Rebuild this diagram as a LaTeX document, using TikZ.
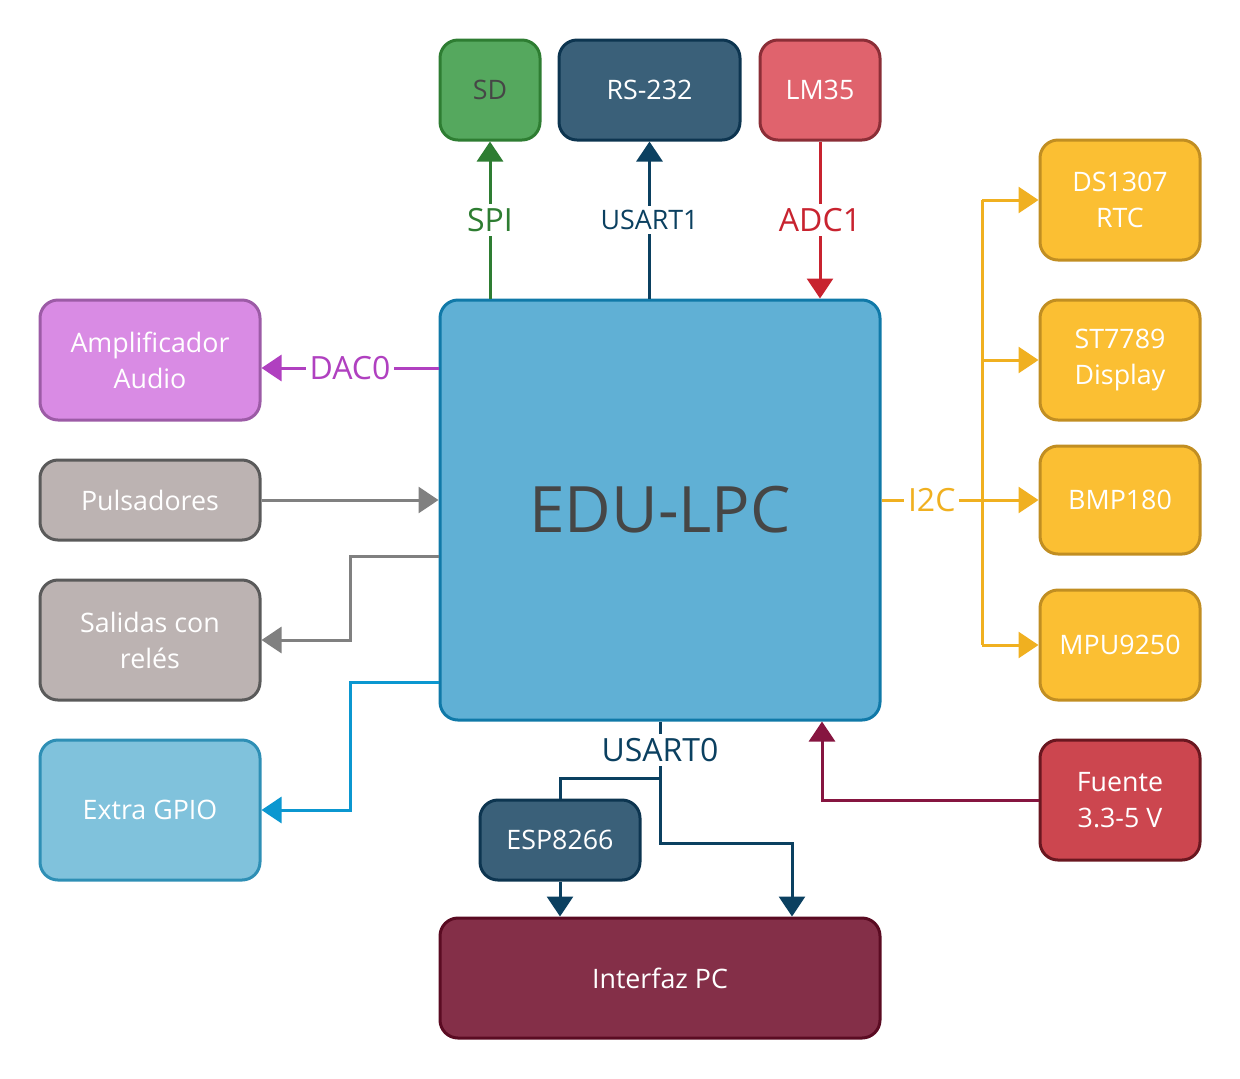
\documentclass[tikz,border=0pt]{standalone}
\usepackage{fontspec}
\setmainfont{Open Sans}
\usepackage{xcolor}
\usepackage{tikz}
\usetikzlibrary{arrows.meta, positioning}

\definecolor{sdfill}{HTML}{55A85E}
\definecolor{sdline}{HTML}{2E7D32}
\definecolor{navyfill}{HTML}{3A6079}
\definecolor{navyline}{HTML}{0D3550}
\definecolor{usartcol}{HTML}{0B4060}
\definecolor{lmfill}{HTML}{E0636D}
\definecolor{lmline}{HTML}{8B2E37}
\definecolor{adccol}{HTML}{C8232F}
\definecolor{edufill}{HTML}{60B0D5}
\definecolor{eduline}{HTML}{1079A8}
\definecolor{ampfill}{HTML}{D98BE4}
\definecolor{ampline}{HTML}{9C5BA6}
\definecolor{daccol}{HTML}{B040C0}
\definecolor{grayfill}{HTML}{BCB3B2}
\definecolor{grayline}{HTML}{5A5A5A}
\definecolor{graycol}{HTML}{808080}
\definecolor{gpiofill}{HTML}{80C2DC}
\definecolor{gpioline}{HTML}{2E8FB5}
\definecolor{gpiocol}{HTML}{0B97D0}
\definecolor{yelfill}{HTML}{FBBF33}
\definecolor{yelline}{HTML}{C18E22}
\definecolor{i2ccol}{HTML}{F0B020}
\definecolor{fuefill}{HTML}{CC464F}
\definecolor{fueline}{HTML}{6A1720}
\definecolor{fuecol}{HTML}{861540}
\definecolor{pcfill}{HTML}{842F48}
\definecolor{pcline}{HTML}{5A0B22}
\definecolor{darktext}{HTML}{464646}

\begin{document}
\begin{tikzpicture}[x=0.5pt,y=-0.5pt,
	blk/.style={rectangle,rounded corners=9pt,line width=1.5pt,align=center,
		text=white,font=\fontsize{13.4}{18}\selectfont,inner sep=0pt},
	lnk/.style={line width=1.5pt},
	tip/.style={-{Triangle[width=13pt,length=10pt]}},
	lbl/.style={fill=white,inner sep=2pt,font=\fontsize{16}{18}\selectfont}]
	\useasboundingbox (0,0) rectangle (1240,1078);
	\node[blk,fill=sdfill,draw=sdline,text=darktext,minimum width=50pt,minimum height=50pt] at (490,90) (sd) {SD};
	\node[blk,fill=navyfill,draw=navyline,minimum width=90.5pt,minimum height=50pt] at (649.5,90) (rs) {RS-232};
	\node[blk,fill=lmfill,draw=lmline,minimum width=60pt,minimum height=50pt] at (820,90) (lm) {LM35};
	\node[blk,fill=edufill,draw=eduline,text=darktext,font=\fontsize{32}{36}\selectfont,minimum width=220pt,minimum height=210pt] at (660,510) (edu) {EDU-LPC};
	\node[blk,fill=ampfill,draw=ampline,minimum width=110pt,minimum height=60pt] at (150,360) (amp) {Amplificador\\Audio};
	\node[blk,fill=grayfill,draw=grayline,minimum width=110pt,minimum height=40pt] at (150,500) (pul) {Pulsadores};
	\node[blk,fill=grayfill,draw=grayline,minimum width=110pt,minimum height=60pt] at (150,640) (sal) {Salidas con\\relés};
	\node[blk,fill=gpiofill,draw=gpioline,minimum width=110pt,minimum height=70pt] at (150,810) (gpio) {Extra GPIO};
	\node[blk,fill=yelfill,draw=yelline,minimum width=80pt,minimum height=60pt] at (1120,200) (ds) {DS1307\\RTC};
	\node[blk,fill=yelfill,draw=yelline,minimum width=80pt,minimum height=60pt] at (1120,360) (st) {ST7789\\Display};
	\node[blk,fill=yelfill,draw=yelline,minimum width=80pt,minimum height=54pt] at (1120,500) (bmp) {BMP180};
	\node[blk,fill=yelfill,draw=yelline,minimum width=80pt,minimum height=55pt] at (1120,645) (mpu) {MPU9250};
	\node[blk,fill=fuefill,draw=fueline,minimum width=80pt,minimum height=60pt] at (1120,800) (fue) {Fuente\\3.3-5 V};
	\node[blk,fill=navyfill,draw=navyline,minimum width=80pt,minimum height=40pt] at (560,840) (esp) {ESP8266};
	\node[blk,fill=pcfill,draw=pcline,minimum width=220pt,minimum height=60pt] at (660,978) (pc) {Interfaz PC};
	% buses de la placa
	\draw[lnk,tip,sdline] (sd.south |- edu.north)--(sd.south) node[midway,lbl,text=sdline] {SPI};
	\draw[lnk,tip,usartcol] (rs.south |- edu.north)--(rs.south) node[midway,lbl,text=usartcol,font=\fontsize{13.4}{16}\selectfont] {USART1};
	\draw[lnk,tip,adccol] (lm.south)--(lm.south |- edu.north) node[midway,lbl,text=adccol] {ADC1};
	\draw[lnk,tip,daccol] (edu.west |- 0,368)--(amp.east |- 0,368) node[midway,lbl,text=daccol] {DAC0};
	\draw[lnk,tip,graycol] (pul.east)--(edu.west |- pul.east);
	\draw[lnk,tip,graycol] (edu.west |- 0,556)--(350,556) |- (sal.east);
	\draw[lnk,tip,gpiocol] (edu.west |- 0,682)--(350,682) |- (gpio.east);
	% I2C
	\coordinate (bus) at (982,500);
	\draw[lnk,i2ccol] (edu.east |- bus)--(bus) node[midway,lbl,text=i2ccol] {I2C};
	\draw[lnk,i2ccol] (bus |- ds.west)--(bus |- mpu.west);
	\foreach \dev in {ds,st,bmp,mpu}
		\draw[lnk,tip,i2ccol] (bus |- \dev.west)--(\dev.west);
	% alimentacion
	\draw[lnk,tip,fuecol] (fue.west) -| (822,0 |- edu.south);
	% USART0
	\coordinate (split) at (660,778);
	\draw[lnk,usartcol] (edu.south)--(split) node[midway,lbl,text=usartcol] {USART0};
	\draw[lnk,usartcol] (split) -| (esp.north);
	\draw[lnk,tip,usartcol] (split) |- (792,843)--(792,0 |- pc.north);
	\draw[lnk,tip,usartcol] (esp.south)--(esp.south |- pc.north);
\end{tikzpicture}
\end{document}
